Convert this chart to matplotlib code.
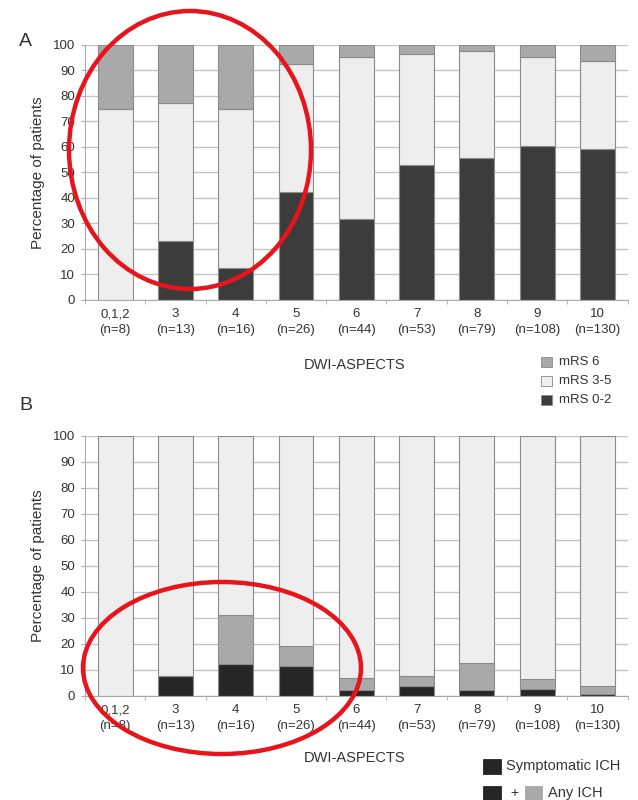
import matplotlib
matplotlib.use("Agg")
import matplotlib.pyplot as plt
from matplotlib.patches import Ellipse, Rectangle
import numpy as np

plt.rcParams['font.family'] = ['Liberation Sans', 'DejaVu Sans']

# ----------------------------------------------------------------------
# DATA
# ----------------------------------------------------------------------
categories = ["0,1,2", "3", "4", "5", "6", "7", "8", "9", "10"]
n_patients = [8, 13, 16, 26, 44, 53, 79, 108, 130]

# panel A: outcome (percent)
mrs_0_2 = [0, 23, 12.5, 42.3, 31.8, 52.8, 55.7, 60.2, 59.2]
mrs_3_5 = [75, 54, 62.5, 50, 63.6, 43.4, 41.8, 35.2, 34.6]
mrs_6 = [25, 23, 25, 7.7, 4.6, 3.8, 2.5, 4.6, 6.2]

# panel B: haemorrhage (percent)
sympt_ich = [0, 7.7, 12.5, 11.5, 2.3, 3.8, 2.5, 2.8, 0.8]
any_ich_extra = [0, 0, 18.75, 7.7, 4.5, 3.8, 10.1, 3.7, 3.1]

labels = [f"{c}\n(n={n})" for c, n in zip(categories, n_patients)]

DARK = "#3c3c3c"
DARKB = "#262626"
MID = "#a9a9a9"
LIGHT = "#eeeeee"
EDGE = "#8a8a8a"
GRID = "#c4c4c4"
TXT = "#333333"

fig = plt.figure(figsize=(6.38, 8.0), dpi=100)
axA = fig.add_axes([0.133, 0.625, 0.851, 0.319])
axB = fig.add_axes([0.133, 0.130, 0.851, 0.325])

x = np.arange(len(categories))
w = 0.58


def style(ax):
    ax.set_xlim(-0.5, len(categories) - 0.5)
    ax.set_ylim(0, 100)
    ax.set_yticks(range(0, 101, 10))
    ax.yaxis.grid(True, color=GRID, lw=1.0)
    ax.set_axisbelow(True)
    for s in ["top", "right"]:
        ax.spines[s].set_visible(False)
    for s in ["left", "bottom"]:
        ax.spines[s].set_color("#aaaaaa")
    ax.set_xticks(x)
    ax.set_xticklabels(labels, fontsize=9.5, color=TXT, linespacing=1.45)
    ax.set_xticks(np.arange(-0.5, len(categories)), minor=True)
    ax.tick_params(axis="x", which="major", length=0, pad=6)
    ax.tick_params(axis="x", which="minor", length=3, color="#aaaaaa")
    ax.tick_params(axis="y", labelsize=9.5, colors=TXT, length=3, pad=4)
    ax.tick_params(axis="y", color="#aaaaaa")
    ax.set_ylabel("Percentage of patients", fontsize=11, color=TXT, labelpad=6)


# ---------- panel A ---------------------------------------------------
b0 = np.array(mrs_0_2)
b1 = b0 + np.array(mrs_3_5)
axA.bar(x, mrs_0_2, w, color=DARK, edgecolor=EDGE, lw=0.8)
axA.bar(x, mrs_3_5, w, bottom=b0, color=LIGHT, edgecolor=EDGE, lw=0.8)
axA.bar(x, mrs_6, w, bottom=b1, color=MID, edgecolor=EDGE, lw=0.8)
style(axA)

# ---------- panel B ---------------------------------------------------
s0 = np.array(sympt_ich)
s1 = s0 + np.array(any_ich_extra)
rest = 100 - s1
axB.bar(x, sympt_ich, w, color=DARKB, edgecolor=EDGE, lw=0.8)
axB.bar(x, any_ich_extra, w, bottom=s0, color=MID, edgecolor=EDGE, lw=0.8)
axB.bar(x, rest, w, bottom=s1, color=LIGHT, edgecolor=EDGE, lw=0.8)
style(axB)

# ---------- figure texts ----------------------------------------------
fig.text(19 / 638, 1 - 41 / 800, "A", fontsize=14, color=TXT, va="center")
fig.text(19 / 638, 1 - 406 / 800, "B", fontsize=14, color=TXT, va="center")
fig.text(355 / 638, 1 - 365 / 800, "DWI-ASPECTS", fontsize=10.5, color=TXT,
         ha="center", va="center")
fig.text(355 / 638, 1 - 758 / 800, "DWI-ASPECTS", fontsize=10.5, color=TXT,
         ha="center", va="center")

# legend A (hand placed, like the original figure)
legA = [("mRS 6", MID), ("mRS 3-5", LIGHT), ("mRS 0-2", DARK)]
for i, (lab, col) in enumerate(legA):
    yy = 1 - (362 + i * 19) / 800
    fig.patches.append(Rectangle((541 / 638, yy - 5 / 800), 11 / 638, 10 / 800,
                                 transform=fig.transFigure, facecolor=col,
                                 edgecolor=EDGE, lw=0.6))
    fig.text(559 / 638, yy, lab, fontsize=9.5, color=TXT, va="center")

# legend B
yy = 1 - 766 / 800
fig.patches.append(Rectangle((483 / 638, yy - 8 / 800), 18 / 638, 15 / 800,
                             transform=fig.transFigure, facecolor=DARKB,
                             edgecolor=DARKB, lw=0.6))
fig.text(506 / 638, yy, "Symptomatic ICH", fontsize=10.5, color=TXT, va="center")
yy = 1 - 793 / 800
fig.patches.append(Rectangle((483 / 638, yy - 8 / 800), 18 / 638, 15 / 800,
                             transform=fig.transFigure, facecolor=DARKB,
                             edgecolor=DARKB, lw=0.6))
fig.text(510 / 638, yy, "+", fontsize=10, color=TXT, va="center")
fig.patches.append(Rectangle((525 / 638, yy - 8 / 800), 17 / 638, 15 / 800,
                             transform=fig.transFigure, facecolor=MID,
                             edgecolor=MID, lw=0.6))
fig.text(548 / 638, yy, "Any ICH", fontsize=10.5, color=TXT, va="center")

# red annotation circles
fig.patches.append(Ellipse((190 / 638, 1 - 150 / 800), 242 / 638, 278 / 800,
                           transform=fig.transFigure, fill=False,
                           edgecolor="#e8141c", lw=3.2))
fig.patches.append(Ellipse((222 / 638, 1 - 668 / 800), 278 / 638, 172 / 800,
                           transform=fig.transFigure, fill=False,
                           edgecolor="#e8141c", lw=3.2))

fig.savefig("out.png", dpi=100)
